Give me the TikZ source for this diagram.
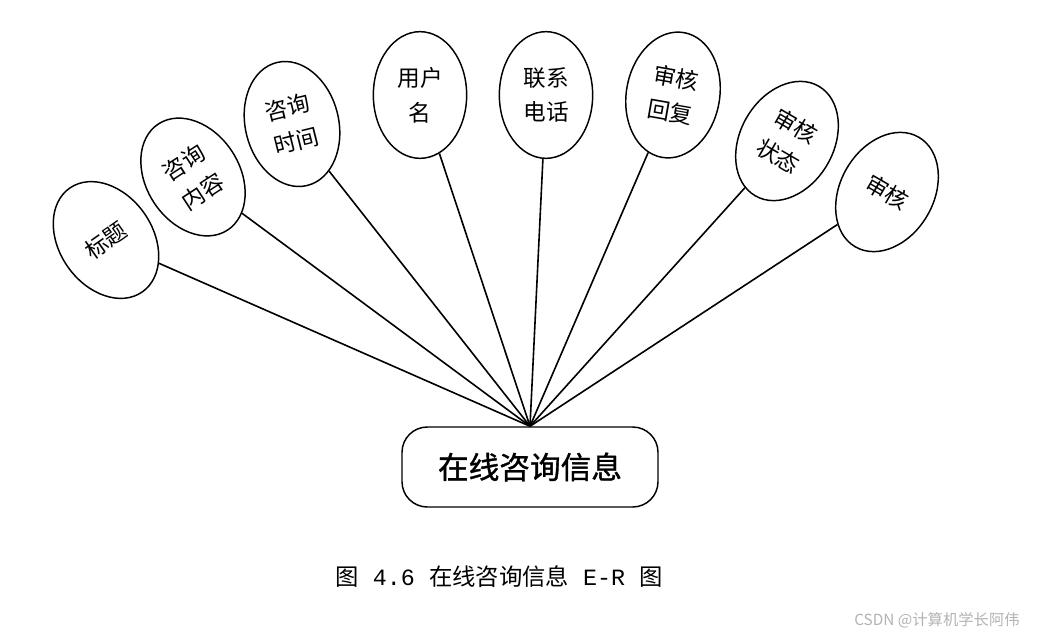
\documentclass[tikz,border=0pt]{standalone}
\usepackage{fontspec}
\newfontfamily\cjk{Noto Sans CJK SC}
\newfontfamily\cjkhead[FakeBold=1.2]{Noto Sans CJK SC}
\newfontfamily\capmono{Liberation Mono}
\usetikzlibrary{shapes.geometric}

\begin{document}
\begin{tikzpicture}[
  x=0.75pt, y=-0.75pt,
  attr/.style={ellipse, draw, line width=1.1pt, minimum width=70pt, minimum height=95pt, inner sep=1pt, align=center, font=\cjk\fontsize{17}{26}\selectfont},
  entity/.style={rectangle, draw, rounded corners=19pt, line width=1.1pt, minimum width=192pt, minimum height=60pt, font=\cjkhead\fontsize{23}{28}\selectfont},
  link/.style={draw, line width=1.2pt}
]
\useasboundingbox (0,0) rectangle (1046,640);

\node[entity] (info) at (530,467) {在线咨询信息};

\node[attr, rotate=35] (title) at (106,240) {标题};
\node[attr, rotate=33] (content) at (193,177) {咨询\\内容};
\node[attr, rotate=14] (asktime) at (292,124) {咨询\\时间};
\node[attr] (user) at (420,95) {用户\\名};
\node[attr] (phone) at (546,95) {联系\\电话};
\node[attr, rotate=-10] (reply) at (673,95) {审核\\回复};
\node[attr, rotate=-30] (state) at (787,141) {审核\\状态};
\node[attr, rotate=-30] (check) at (887,192) {审核};

\foreach \n in {title,content,asktime,user,phone,reply,state,check}
  \draw[link] (info.north) -- (\n);

\node[font=\cjk\fontsize{17.5}{20}\selectfont] (caption) at (499,577)
  {图\hspace{0.6em}{\capmono 4.6}\hspace{0.6em}在线咨询信息\hspace{0.6em}{\capmono E-R}\hspace{0.6em}图};
\node[font=\cjk\fontsize{11.5}{14}\selectfont, text=black!30] (mark) at (937,620) {CSDN @计算机学长阿伟};
\end{tikzpicture}
\end{document}
